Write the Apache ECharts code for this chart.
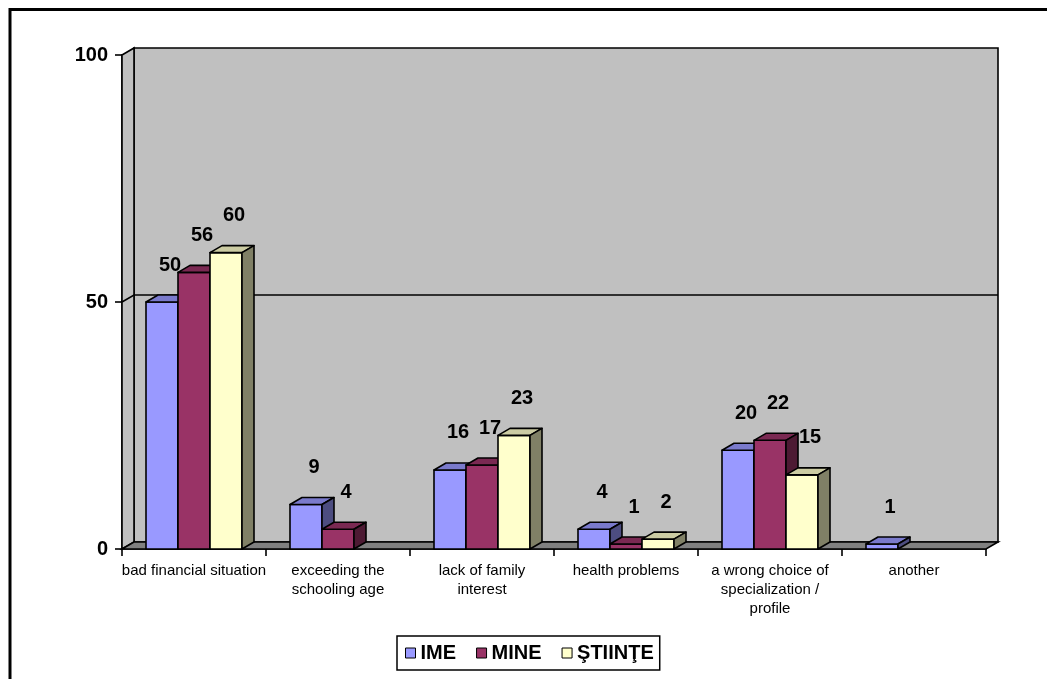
<!DOCTYPE html>
<html>
<head>
<meta charset="utf-8">
<script src="https://cdn.jsdelivr.net/npm/echarts@6/dist/echarts.min.js"></script>
<style>
html,body{margin:0;padding:0;background:#fff;}
#chart{width:1047px;height:679px;}
</style>
</head>
<body>
<div id="chart"></div>
<script>
const categories = [
  "bad financial situation",
  "exceeding the\nschooling age",
  "lack of family\ninterest",
  "health problems",
  "a wrong choice of\nspecialization /\nprofile",
  "another"
];
const seriesNames = ["IME", "MINE", "ŞTIINŢE"];
const imeValues = [50, 9, 16, 4, 20, 1];
const mineValues = [56, 4, 17, 1, 22, null];
const stiinteValues = [60, null, 23, 2, 15, null];
const yTicks = [0, 50, 100];

const FONT = "'Liberation Sans', Arial, sans-serif";
const colors = ["#9999FF", "#993366", "#FFFFCC"];
const DX = 12, DY = -7;
const LW = 1.6;

function shade(hex, f) {
  const n = parseInt(hex.slice(1), 16);
  const r = Math.round(((n >> 16) & 255) * f);
  const g = Math.round(((n >> 8) & 255) * f);
  const b = Math.round((n & 255) * f);
  return "rgb(" + r + "," + g + "," + b + ")";
}

function barRenderer(idx) {
  const col = colors[idx];
  return function (params, api) {
    const cat = api.value(0);
    const val = api.value(1);
    const base = api.coord([cat, 0]);
    const topPt = api.coord([cat, val]);
    const band = api.size([1, 0])[0];
    const w = band * 32 / 144;
    const x0 = base[0] - 1.5 * w + idx * w;
    const yb = base[1];
    const yt = topPt[1];
    const stroke = { stroke: "#000", lineWidth: LW, lineJoin: "round" };
    return {
      type: "group",
      children: [
        { type: "rect", shape: { x: x0, y: yt, width: w, height: yb - yt },
          style: Object.assign({ fill: col }, stroke) },
        { type: "polygon", shape: { points: [[x0, yt], [x0 + DX, yt + DY], [x0 + w + DX, yt + DY], [x0 + w, yt]] },
          style: Object.assign({ fill: shade(col, 0.8) }, stroke) },
        { type: "polygon", shape: { points: [[x0 + w, yt], [x0 + w + DX, yt + DY], [x0 + w + DX, yb + DY], [x0 + w, yb]] },
          style: Object.assign({ fill: shade(col, 0.5) }, stroke) },
        { type: "text", style: { x: x0 + w / 2 + 8, y: yt - 37, text: String(val),
          font: "bold 20px " + FONT, fill: "#000", align: "center", verticalAlign: "middle" } }
      ]
    };
  };
}

function wallRenderer(params, api) {
  const cs = params.coordSys;
  const x = cs.x, y = cs.y, w = cs.width, h = cs.height;
  const stroke = { stroke: "#000", lineWidth: LW };
  const children = [
    { type: "rect", shape: { x: x + DX, y: y + DY, width: w, height: h },
      style: Object.assign({ fill: "#C0C0C0" }, stroke) },
    { type: "polygon", shape: { points: [[x, y], [x + DX, y + DY], [x + DX, y + h + DY], [x, y + h]] },
      style: Object.assign({ fill: "#C0C0C0" }, stroke) },
    { type: "polygon", shape: { points: [[x, y + h], [x + DX, y + h + DY], [x + w + DX, y + h + DY], [x + w, y + h]] },
      style: Object.assign({ fill: "#808080" }, stroke) }
  ];
  yTicks.forEach(function (t) {
    if (t === 0 || t === yTicks[yTicks.length - 1]) return;
    const yy = api.coord([0, t])[1];
    children.push({ type: "polyline", shape: { points: [[x, yy], [x + DX, yy + DY], [x + w + DX, yy + DY]] },
      style: { stroke: "#000", lineWidth: LW, fill: null } });
  });
  return { type: "group", children: children };
}

function toData(arr) {
  return arr.map(function (v, i) { return [i, v]; }).filter(function (d) { return d[1] != null; });
}

const chart = echarts.init(document.getElementById("chart"), null, { renderer: "canvas" });
chart.setOption({
  animation: false,
  backgroundColor: "#fff",
  color: colors,
  graphic: [{
    type: "rect", z: -10, silent: true,
    shape: { x: 10, y: 9.5, width: 1100, height: 700 },
    style: { fill: null, stroke: "#000", lineWidth: 3 }
  }],
  grid: { left: 122, top: 55, right: 61, bottom: 130, containLabel: false },
  xAxis: {
    type: "category",
    data: categories,
    axisLine: { show: true, lineStyle: { color: "#000", width: LW } },
    axisTick: { show: true, interval: 0, length: 7, lineStyle: { color: "#000", width: LW } },
    axisLabel: { interval: 0, margin: 12, color: "#000", fontFamily: FONT, fontSize: 15, lineHeight: 19 },
    splitLine: { show: false }
  },
  yAxis: {
    type: "value", min: 0, max: 100, interval: 50,
    axisLine: { show: true, lineStyle: { color: "#000", width: LW } },
    axisTick: { show: true, length: 7, lineStyle: { color: "#000", width: LW } },
    axisLabel: { margin: 14, color: "#000", fontFamily: FONT, fontSize: 20, fontWeight: "bold",
      formatter: function (v) { return yTicks.indexOf(v) >= 0 ? String(v) : ""; } },
    splitLine: { show: false }
  },
  legend: {
    data: seriesNames,
    left: 397, top: 636,
    orient: "horizontal",
    padding: [7, 6, 7, 8],
    itemGap: 20,
    itemWidth: 10, itemHeight: 10,
    icon: "rect",
    borderColor: "#000", borderWidth: 1.5,
    backgroundColor: "#fff",
    itemStyle: { borderColor: "#000", borderWidth: 1 },
    textStyle: { color: "#000", fontFamily: FONT, fontSize: 20, fontWeight: "bold" }
  },
  series: [
    { type: "custom", name: "walls", z: 1, silent: true, renderItem: wallRenderer, data: [[0, 0]] },
    { type: "custom", name: seriesNames[0], z: 3, renderItem: barRenderer(0), data: toData(imeValues), itemStyle: { color: colors[0] } },
    { type: "custom", name: seriesNames[1], z: 3, renderItem: barRenderer(1), data: toData(mineValues), itemStyle: { color: colors[1] } },
    { type: "custom", name: seriesNames[2], z: 3, renderItem: barRenderer(2), data: toData(stiinteValues), itemStyle: { color: colors[2] } }
  ]
});
</script>
</body>
</html>
